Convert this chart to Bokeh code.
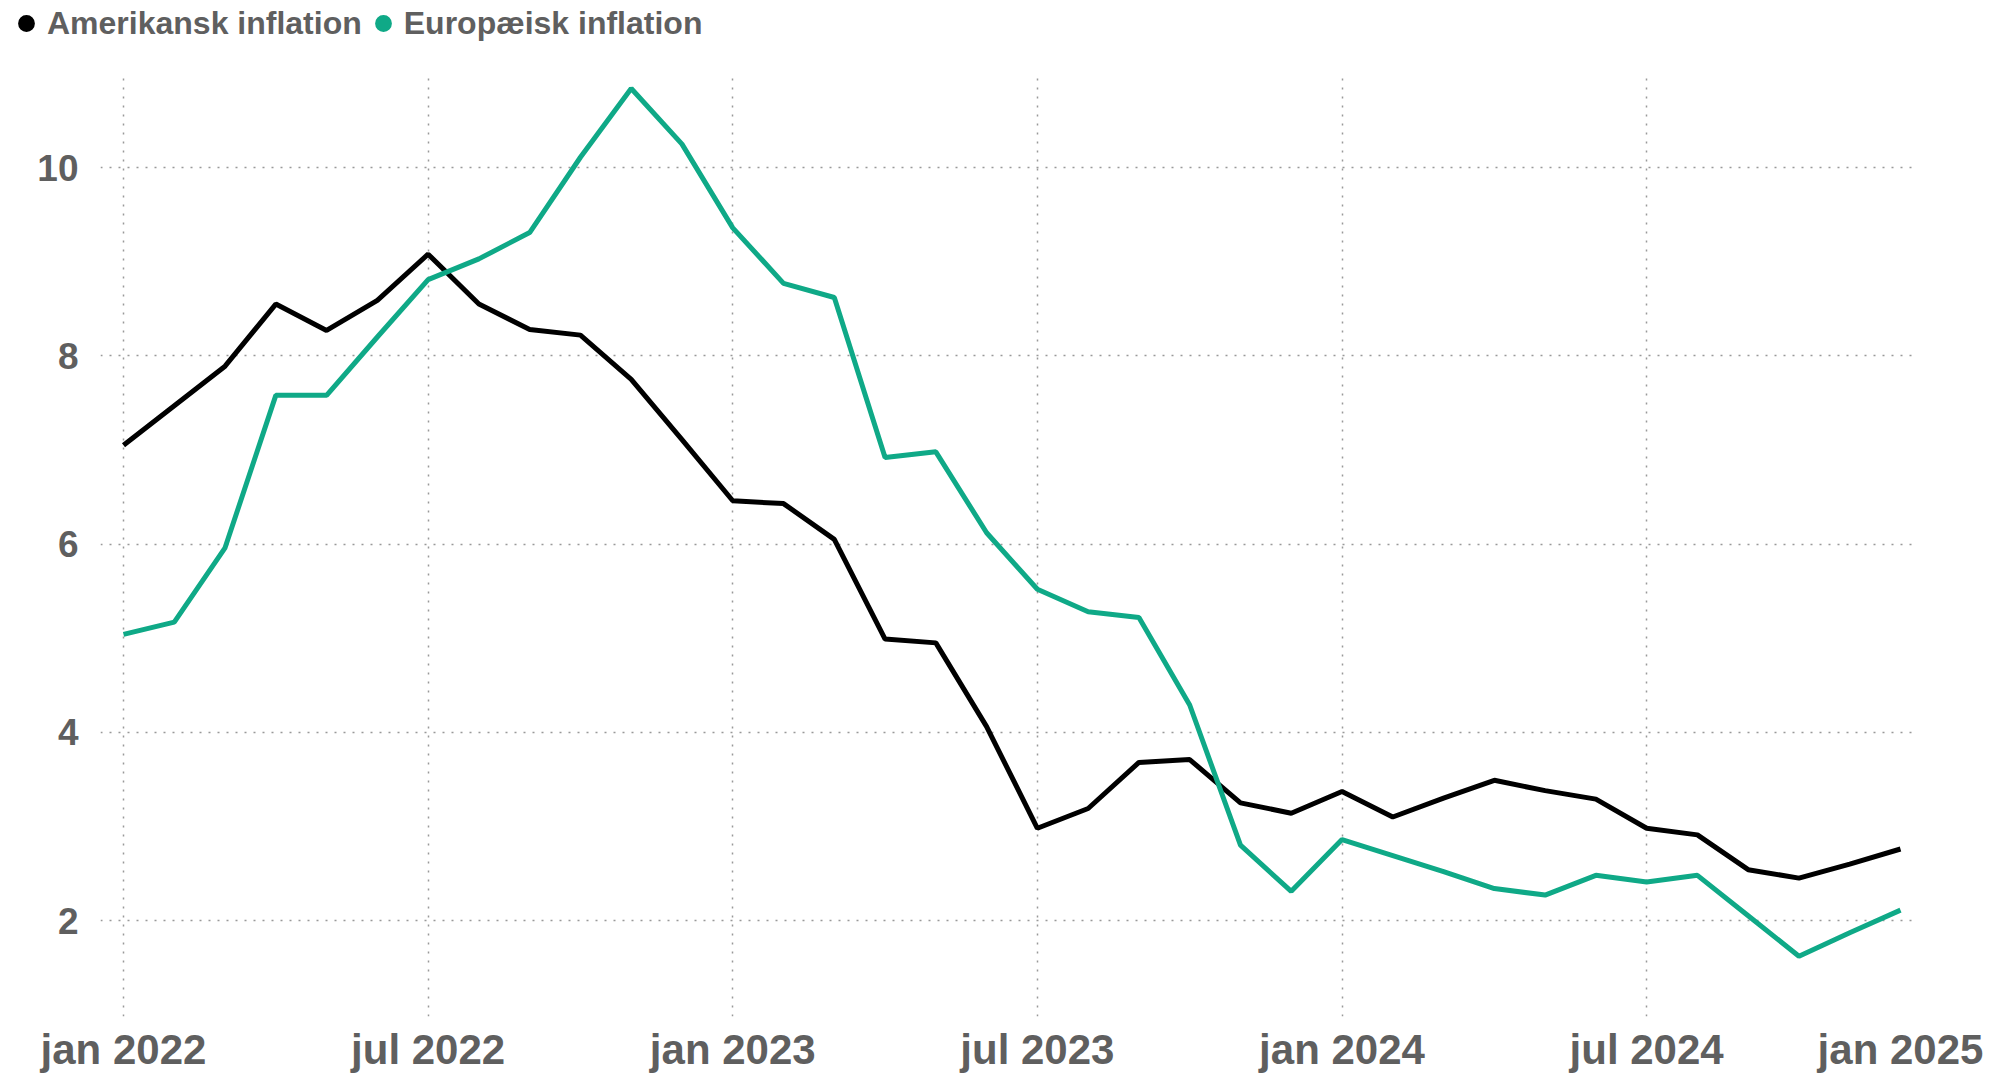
from bokeh.plotting import figure
from bokeh.models import (FixedTicker, Range1d, Legend, LegendItem, ColumnDataSource)
from bokeh.embed import file_html
from bokeh.resources import INLINE

# ---- data ----
month_index = list(range(36))  # jan 2022 ... dec 2024 positions
tick_positions = [0, 6, 12, 18, 24, 30, 35]
tick_labels = ["jan 2022", "jul 2022", "jan 2023", "jul 2023", "jan 2024", "jul 2024", "jan 2025"]
grid_positions = [0, 6, 12, 18, 24, 30]
y_ticks = [2, 4, 6, 8, 10]

us_inflation = [7.05, 7.47, 7.89, 8.55, 8.27, 8.59, 9.08, 8.55, 8.28, 8.22, 7.75, 7.11,
                6.46, 6.43, 6.05, 4.99, 4.95, 4.06, 2.98, 3.19, 3.68, 3.71, 3.25, 3.14,
                3.37, 3.10, 3.30, 3.49, 3.38, 3.29, 2.98, 2.91, 2.54, 2.45, 2.60, 2.76]
eu_inflation = [5.04, 5.17, 5.96, 7.58, 7.58, 8.20, 8.81, 9.03, 9.31, 10.11, 10.84, 10.25,
                9.36, 8.77, 8.62, 6.92, 6.98, 6.12, 5.52, 5.28, 5.22, 4.29, 2.80, 2.31,
                2.86, 2.69, 2.52, 2.34, 2.27, 2.48, 2.41, 2.48, 2.05, 1.62, 1.87, 2.11]

series_names = ["Amerikansk inflation", "Europæisk inflation"]
series_colors = ["#000000", "#0fa987"]

FONT = "Liberation Sans"
TEXT_COLOR = "#5f5f5f"

# ---------- legend strip (separate root, so no frame alignment) ----------
lg = figure(width=1990, height=57, x_range=Range1d(0, 1), y_range=Range1d(0, 1),
            min_border=0, output_backend="svg", toolbar_location=None)
lg.axis.visible = False
lg.grid.visible = False
lg.outline_line_color = None
# dot renderers placed outside the visible range; used only as legend glyphs
d_us = lg.scatter(x=[5], y=[5], marker="circle", size=14,
                  fill_color=series_colors[0], line_color=None)
d_eu = lg.scatter(x=[5], y=[5], marker="circle", size=14,
                  fill_color=series_colors[1], line_color=None)
legend = Legend(items=[LegendItem(label=series_names[0], renderers=[d_us]),
                       LegendItem(label=series_names[1], renderers=[d_eu])],
                orientation="horizontal", location=(5, 13),
                padding=0, margin=0, spacing=0, label_standoff=0,
                glyph_width=42, glyph_height=42, label_height=42,
                border_line_color=None, background_fill_alpha=0,
                label_text_font=FONT, label_text_font_style="bold",
                label_text_font_size="32px", label_text_color=TEXT_COLOR)
lg.add_layout(legend, "center")

# ---------- main chart ----------
p = figure(frame_width=1813, frame_height=943,
           min_border_left=100, min_border_right=77, min_border_top=16, min_border_bottom=55,
           x_range=Range1d(-0.453, 35.256), y_range=Range1d(0.98, 11.0),
           output_backend="svg", toolbar_location=None)
p.outline_line_color = None
p.background_fill_color = "white"
p.border_fill_color = "white"

src = ColumnDataSource(dict(x=month_index, us=us_inflation, eu=eu_inflation))
p.line("x", "us", source=src, line_color=series_colors[0], line_width=5)
p.line("x", "eu", source=src, line_color=series_colors[1], line_width=5)

for ax in (p.xaxis[0], p.yaxis[0]):
    ax.axis_line_color = None
    ax.major_tick_line_color = None
    ax.minor_tick_line_color = None
    ax.major_label_text_font = FONT
    ax.major_label_text_font_style = "bold"
    ax.major_label_text_color = TEXT_COLOR

p.xaxis.ticker = FixedTicker(ticks=tick_positions)
p.xaxis.major_label_overrides = {t: l for t, l in zip(tick_positions, tick_labels)}
p.xaxis.major_label_text_font_size = "42px"
p.xaxis.major_label_standoff = 3

p.yaxis.ticker = FixedTicker(ticks=y_ticks)
p.yaxis.major_label_text_font_size = "37px"
p.yaxis.major_label_standoff = 16

p.xgrid.ticker = FixedTicker(ticks=grid_positions)
p.ygrid.ticker = FixedTicker(ticks=y_ticks)
for g in (p.xgrid[0], p.ygrid[0]):
    g.grid_line_color = "#999999"
    g.grid_line_dash = "2 7"
    g.grid_line_width = 1.5

open("out.html", "w").write(file_html([lg, p], INLINE))
